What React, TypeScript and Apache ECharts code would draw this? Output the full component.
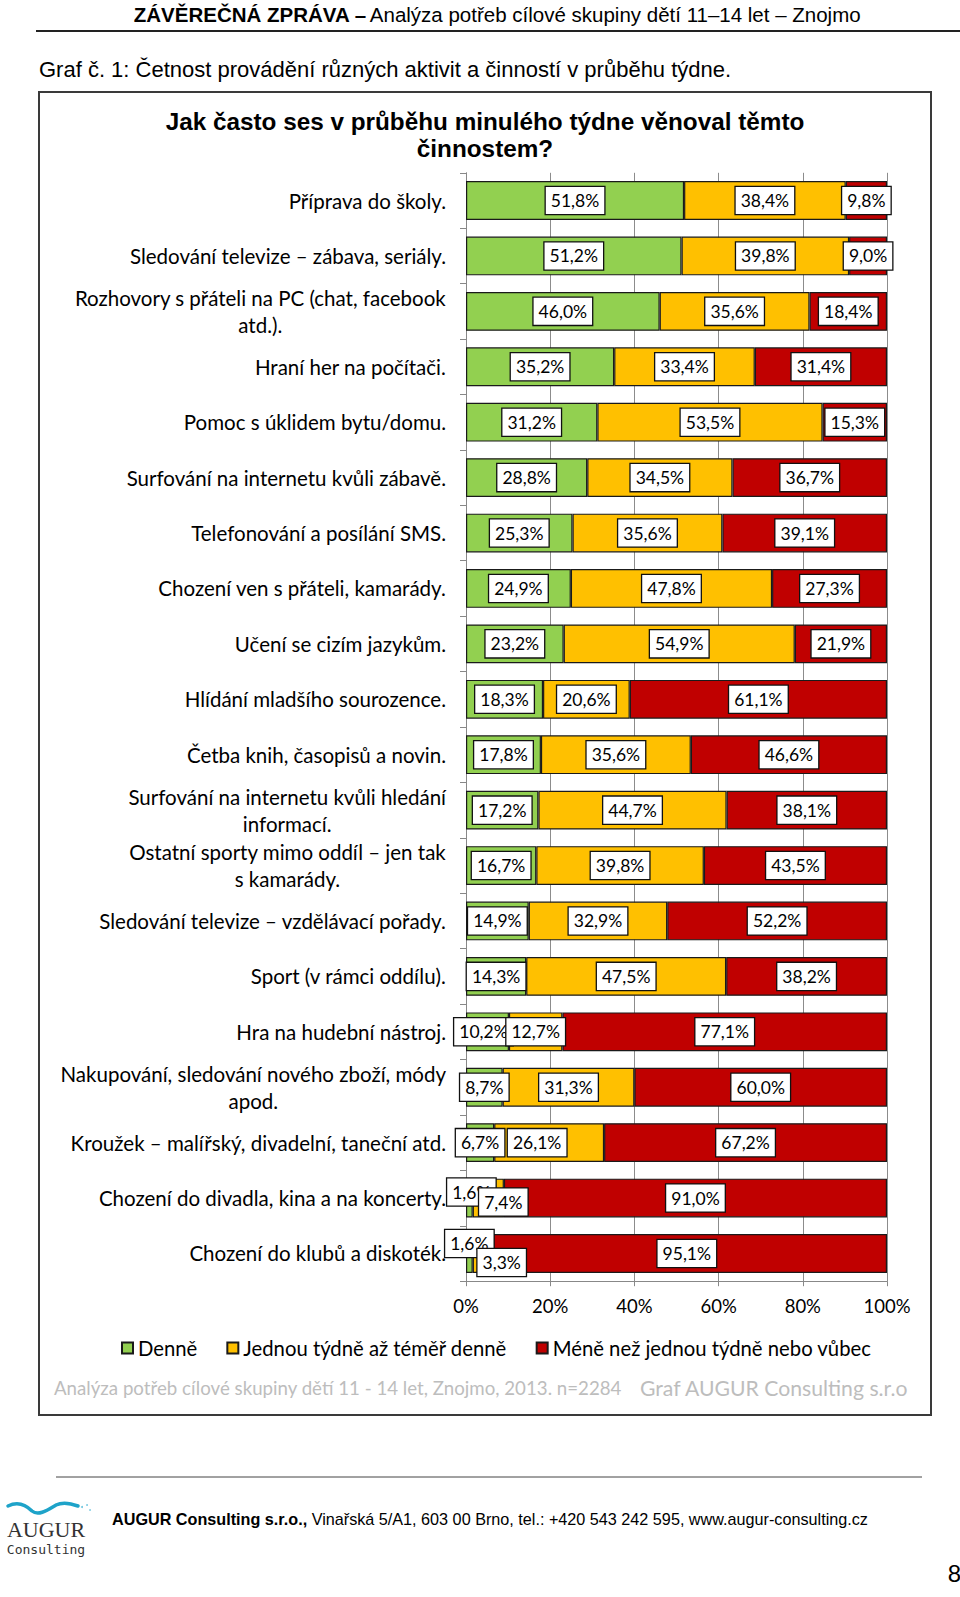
import React, { useEffect, useRef } from 'react';
import * as echarts from 'echarts';

const categories = [
  'Příprava do školy.',
  'Sledování televize – zábava, seriály.',
  'Rozhovory s přáteli na PC (chat, facebook\natd.).',
  'Hraní her na počítači.',
  'Pomoc s úklidem bytu/domu.',
  'Surfování na internetu kvůli zábavě.',
  'Telefonování a posílání SMS.',
  'Chození ven s přáteli, kamarády.',
  'Učení se cizím jazykům.',
  'Hlídání mladšího sourozence.',
  'Četba knih, časopisů a novin.',
  'Surfování na internetu kvůli hledání\ninformací.',
  'Ostatní sporty mimo oddíl – jen tak\ns kamarády.',
  'Sledování televize – vzdělávací pořady.',
  'Sport (v rámci oddílu).',
  'Hra na hudební nástroj.',
  'Nakupování, sledování nového zboží, módy\napod.',
  'Kroužek – malířský, divadelní, taneční atd.',
  'Chození do divadla, kina a na koncerty.',
  'Chození do klubů a diskoték.',
];

const dailyValues = [51.8, 51.2, 46.0, 35.2, 31.2, 28.8, 25.3, 24.9, 23.2, 18.3, 17.8, 17.2, 16.7, 14.9, 14.3, 10.2, 8.7, 6.7, 1.6, 1.6];
const weeklyValues = [38.4, 39.8, 35.6, 33.4, 53.5, 34.5, 35.6, 47.8, 54.9, 20.6, 35.6, 44.7, 39.8, 32.9, 47.5, 12.7, 31.3, 26.1, 7.4, 3.3];
const rarelyValues = [9.8, 9.0, 18.4, 31.4, 15.3, 36.7, 39.1, 27.3, 21.9, 61.1, 46.6, 38.1, 43.5, 52.2, 38.2, 77.1, 60.0, 67.2, 91.0, 95.1];

const seriesNames = ['Denně', 'Jednou týdně až téměř denně', 'Méně než jednou týdně nebo vůbec'];
const seriesColors = ['#92D050', '#FFC000', '#C00000'];
const xTickStep = 20;

// manual label nudges (series index, row index) -> [dx, dy], as in the original Excel chart
const labelNudges: Record<string, [number, number]> = {
  '0-15': [-4, 0],
  '1-17': [-12, 0],
  '0-18': [2, -6],
  '1-18': [15, 4],
  '0-19': [0, -10],
  '1-19': [22, 9],
};

const FONT = 'Lato, "Open Sans", sans-serif';
const ARIAL = '"Liberation Sans", Arial, sans-serif';

echarts.graphic.registerShape(
  'augurSwoosh',
  echarts.graphic.extendPath('M0,5 C8,1 16,2 24,10 C30,15 38,10 48,4 C54,1 62,2 70,5', {})
);

export default function App() {
  const ref = useRef<HTMLDivElement>(null);

  useEffect(() => {
    if (!ref.current) return;
    const chart = echarts.init(ref.current, undefined, { renderer: 'svg' });
    const allValues = [dailyValues, weeklyValues, rarelyValues];

    const series = allValues.map((vals, si) => ({
      name: seriesNames[si],
      type: 'bar',
      stack: 'total',
      barCategoryGap: '30%',
      itemStyle: { color: seriesColors[si], borderColor: '#1a1a1a', borderWidth: 1.2 },
      label: {
        show: true,
        position: 'inside',
        formatter: (p: any) => p.value.toFixed(1).replace('.', ',') + '%',
        backgroundColor: '#ffffff',
        borderColor: '#111',
        borderWidth: 1.3,
        padding: [4, 5, 4, 5],
        fontSize: 17.5,
        lineHeight: 19,
        color: '#000',
        fontFamily: FONT,
      },
      data: vals.map((v, ri) => {
        const n = labelNudges[`${si}-${ri}`];
        return n ? { value: v, label: { offset: n } } : { value: v };
      }),
    }));

    chart.setOption({
      animation: false,
      backgroundColor: '#ffffff',
      grid: { left: 466, right: 73, top: 172.8, height: 1108.4, containLabel: false },
      legend: {
        left: 116,
        top: 1333,
        icon: 'rect',
        itemWidth: 11,
        itemHeight: 11,
        itemGap: 29,
        data: seriesNames,
        textStyle: { fontSize: 20.3, fontFamily: FONT, color: '#000' },
      },
      xAxis: {
        type: 'value',
        min: 0,
        max: 100,
        interval: xTickStep,
        axisLine: { show: true, lineStyle: { color: '#888', width: 1 } },
        axisTick: { show: true, length: 5, lineStyle: { color: '#888' } },
        splitLine: { show: true, lineStyle: { color: '#8c8c8c', width: 1 } },
        axisLabel: { formatter: '{value}%', fontSize: 18.5, fontFamily: FONT, color: '#000', margin: 15 },
      },
      yAxis: {
        type: 'category',
        inverse: true,
        data: categories,
        axisLine: { show: true, lineStyle: { color: '#888', width: 1 } },
        axisTick: { show: true, length: 6, lineStyle: { color: '#888' } },
        axisLabel: {
          interval: 0,
          margin: 20,
          formatter: (v: string) => v.split('\n').map((l) => `{c|${l}}`).join('\n'),
          rich: { c: { align: 'center', fontSize: 20.5, fontFamily: FONT, color: '#000', lineHeight: 27 } },
        },
      },
      series,
      graphic: [
        {
          type: 'text',
          x: 497,
          y: 14,
          style: {
            text: '{b|ZÁVĚREČNÁ ZPRÁVA –} {r|Analýza potřeb cílové skupiny dětí 11–14 let – Znojmo}',
            align: 'center',
            verticalAlign: 'middle',
            rich: {
              b: { fontSize: 20.5, fontWeight: 'bold', fontFamily: ARIAL, fill: '#000' },
              r: { fontSize: 20.5, fontFamily: ARIAL, fill: '#000' },
            },
          },
        },
        { type: 'line', shape: { x1: 36, y1: 31, x2: 960, y2: 31 }, style: { stroke: '#222', lineWidth: 2 } },
        {
          type: 'text',
          x: 39,
          y: 69,
          style: {
            text: 'Graf č. 1: Četnost provádění různých aktivit a činností v průběhu týdne.',
            fontSize: 22,
            fontFamily: ARIAL,
            fill: '#000',
            verticalAlign: 'middle',
          },
        },
        {
          type: 'rect',
          shape: { x: 39, y: 92, width: 892, height: 1323 },
          style: { fill: 'none', stroke: '#3a3a3a', lineWidth: 2 },
          z: -1,
        },
        {
          type: 'text',
          x: 485,
          y: 121,
          style: {
            text: 'Jak často ses v průběhu minulého týdne věnoval těmto',
            fontSize: 24.3,
            fontWeight: 'bold',
            fontFamily: ARIAL,
            fill: '#000',
            align: 'center',
            verticalAlign: 'middle',
          },
        },
        {
          type: 'text',
          x: 485,
          y: 148,
          style: {
            text: 'činnostem?',
            fontSize: 24.3,
            fontWeight: 'bold',
            fontFamily: ARIAL,
            fill: '#000',
            align: 'center',
            verticalAlign: 'middle',
          },
        },
        {
          type: 'text',
          x: 54,
          y: 1388,
          style: {
            text: 'Analýza potřeb cílové skupiny dětí 11 - 14 let, Znojmo, 2013. n=2284',
            fontSize: 18.7,
            fontFamily: FONT,
            fill: '#bdbdbd',
            verticalAlign: 'middle',
          },
        },
        {
          type: 'text',
          x: 640,
          y: 1388,
          style: {
            text: 'Graf AUGUR Consulting s.r.o',
            fontSize: 21.2,
            fontFamily: FONT,
            fill: '#bdbdbd',
            verticalAlign: 'middle',
          },
        },
        { type: 'line', shape: { x1: 56, y1: 1477, x2: 922, y2: 1477 }, style: { stroke: '#444', lineWidth: 1 } },
        {
          type: 'augurSwoosh',
          x: 8,
          y: 1501,
          style: { fill: 'none', stroke: '#1ea3c9', lineWidth: 3.5, lineCap: 'round' },
        },
        { type: 'circle', shape: { cx: 82, cy: 1507, r: 1 }, style: { fill: '#6cc4de' } },
        { type: 'circle', shape: { cx: 87, cy: 1505, r: 0.9 }, style: { fill: '#6cc4de' } },
        { type: 'circle', shape: { cx: 90, cy: 1510, r: 0.8 }, style: { fill: '#6cc4de' } },
        {
          type: 'text',
          x: 46,
          y: 1529,
          style: {
            text: 'AUGUR',
            fontSize: 22,
            fontFamily: '"Liberation Serif", "DejaVu Serif", serif',
            fill: '#333',
            align: 'center',
            verticalAlign: 'middle',
          },
        },
        {
          type: 'text',
          x: 46,
          y: 1549,
          style: {
            text: 'Consulting',
            fontSize: 13,
            fontFamily: '"DejaVu Sans Mono", monospace',
            fill: '#333',
            align: 'center',
            verticalAlign: 'middle',
          },
        },
        {
          type: 'text',
          x: 112,
          y: 1519,
          style: {
            text: '{b|AUGUR Consulting s.r.o.,}{r| Vinařská 5/A1, 603 00 Brno, tel.: +420 543 242 595, www.augur-consulting.cz}',
            verticalAlign: 'middle',
            rich: {
              b: { fontSize: 16.2, fontWeight: 'bold', fontFamily: ARIAL, fill: '#000' },
              r: { fontSize: 16.2, fontFamily: ARIAL, fill: '#000' },
            },
          },
        },
        {
          type: 'text',
          x: 961,
          y: 1573,
          style: { text: '8', fontSize: 24, fontFamily: ARIAL, fill: '#000', align: 'right', verticalAlign: 'middle' },
        },
      ],
    });

    return () => chart.dispose();
  }, []);

  return (
    <div
      ref={ref}
      style={{ position: 'absolute', left: 0, top: 0, width: 960, height: 1597, background: '#fff' }}
    />
  );
}
